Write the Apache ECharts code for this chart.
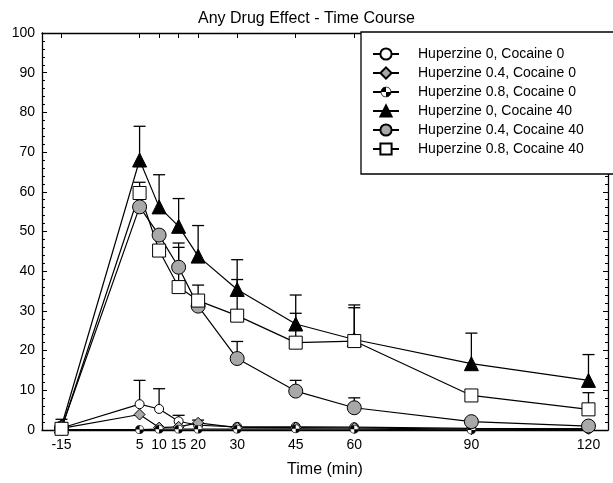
<!DOCTYPE html>
<html>
<head>
<meta charset="utf-8">
<title>Any Drug Effect - Time Course</title>
<script src="https://cdn.jsdelivr.net/npm/echarts@6/dist/echarts.min.js"></script>
<style>
  html, body { margin: 0; padding: 0; background: #fff; }
  #chart { width: 613px; height: 483px; }
</style>
</head>
<body>
<div id="chart"></div>
<script>
// time points (min)
var times = [-15, 5, 10, 15, 20, 30, 45, 60, 90, 120]

// group means
var h0c0 = [0.5, 6.5, 5.3, 2.2, 1.2, 0.8, 0.8, 0.7, 0.4, 0.3]
var h04c0 = [0.4, 3.9, 0.6, 0.8, 1.8, 0.6, 0.6, 0.5, 0.2, 0.3]
var h08c0 = [0.1, 0.1, 0.2, 0.2, 0.2, 0.2, 0.3, 0.2, 0.0, 0.2]
var h0c40 = [1.0, 68.0, 56.2, 51.3, 43.8, 35.4, 26.7, 22.8, 16.7, 12.5]
var h04c40 = [0.5, 56.2, 49.1, 41.0, 31.2, 18.0, 9.8, 5.6, 2.1, 1.0]
var h08c40 = [0.3, 59.7, 45.2, 36.0, 32.6, 28.8, 22.0, 22.4, 8.7, 5.2]

// upper end of the error bars (null = not visible)
var h0c0Err = [null, 12.5, 10.4, 3.7, null, null, null, null, null, null]
var h04c0Err = [null, null, null, null, 2.5, null, null, null, null, null]
var h0c40Err = [2.7, 76.5, 64.3, 58.3, 51.5, 42.9, 34.0, 31.5, 24.4, 19.0]
var h04c40Err = [null, null, null, 47.1, null, 22.3, 12.5, 8.1, null, null]
var h08c40Err = [null, 62.4, null, 46.0, 36.5, 37.9, 29.4, 30.8, null, 9.4]

var names = [
  'Huperzine 0, Cocaine 0',
  'Huperzine 0.4, Cocaine 0',
  'Huperzine 0.8, Cocaine 0',
  'Huperzine 0, Cocaine 40',
  'Huperzine 0.4, Cocaine 40',
  'Huperzine 0.8, Cocaine 40'
]

var font = 'Liberation Sans, Arial, Helvetica, sans-serif'

// circle with two black quadrants
var halfSvg = "<svg xmlns='http://www.w3.org/2000/svg' width='40' height='40' viewBox='0 0 40 40'>" +
  "<circle cx='20' cy='20' r='18' fill='white' stroke='black' stroke-width='3'/>" +
  "<path d='M20 20 L20 2 A18 18 0 0 0 2 20 Z M20 20 L20 38 A18 18 0 0 0 38 20 Z' fill='black'/></svg>"
var halfSymbol = 'image://data:image/svg+xml;charset=utf-8,' + encodeURIComponent(halfSvg)

function pairs(vals) {
  return times.map(function(t, i) { return [t, vals[i]] })
}

function errPairs(vals, errs) {
  var out = []
  times.forEach(function(t, i) {
    if (errs[i] != null) out.push([t, vals[i], errs[i]])
  })
  return out
}

function lineSeries(name, vals, symbol, size, fill) {
  return {
    name: name,
    type: 'line',
    data: pairs(vals),
    symbol: symbol,
    symbolSize: size,
    showAllSymbol: true,
    z: 3,
    lineStyle: { color: '#000', width: 1.2 },
    itemStyle: { color: fill, borderColor: '#000', borderWidth: 1, opacity: 1 },
    emphasis: { disabled: true },
    animation: false
  }
}

var errData = [].concat(
  errPairs(h0c0, h0c0Err),
  errPairs(h04c0, h04c0Err),
  errPairs(h0c40, h0c40Err),
  errPairs(h04c40, h04c40Err),
  errPairs(h08c40, h08c40Err)
)

var chart = echarts.init(document.getElementById('chart'))

var tickCommon = {
  axisLine: { show: true, onZero: false, lineStyle: { color: '#000', width: 1.3 } },
  splitLine: { show: false }
}

chart.setOption({
  backgroundColor: '#fff',
  animation: false,
  title: {
    text: 'Any Drug Effect - Time Course',
    left: 'center',
    top: 6,
    textStyle: { fontFamily: font, fontSize: 16, fontWeight: 'normal', color: '#000' }
  },
  grid: { left: 42, right: 5, top: 33, bottom: 51 },
  legend: {
    orient: 'vertical',
    left: 361,
    top: 32,
    data: names,
    itemWidth: 26,
    itemHeight: 14,
    itemGap: 5,
    padding: [15, 78, 18, 11],
    backgroundColor: '#fff',
    borderColor: '#000',
    borderWidth: 1.3,
    borderRadius: 0,
    selectedMode: false,
    textStyle: { fontFamily: font, fontSize: 14, color: '#000', padding: [0, 0, 0, 14] }
  },
  xAxis: [
    Object.assign({
      type: 'value',
      min: -20,
      max: 125,
      position: 'bottom',
      name: 'Time (min)',
      nameLocation: 'middle',
      nameGap: 32,
      nameTextStyle: { fontFamily: font, fontSize: 16, color: '#000' },
      axisTick: { show: true, inside: true, length: 5, customValues: times, lineStyle: { color: '#000' } },
      axisLabel: { customValues: times, margin: 8, fontFamily: font, fontSize: 14, color: '#000' }
    }, tickCommon),
    Object.assign({
      type: 'value',
      min: -20,
      max: 125,
      position: 'top',
      axisTick: { show: true, inside: true, length: 5, customValues: times, lineStyle: { color: '#000' } },
      axisLabel: { show: false }
    }, tickCommon)
  ],
  yAxis: [
    Object.assign({
      type: 'value',
      min: 0,
      max: 100,
      interval: 10,
      position: 'left',
      axisTick: { show: true, inside: true, length: 5, lineStyle: { color: '#000' } },
      minorTick: { show: true, splitNumber: 5, length: 3, lineStyle: { color: '#000' } },
      axisLabel: { margin: 7, fontFamily: font, fontSize: 14, color: '#000' }
    }, tickCommon),
    Object.assign({
      type: 'value',
      min: 0,
      max: 100,
      interval: 10,
      position: 'right',
      axisTick: { show: true, inside: true, length: 5, lineStyle: { color: '#000' } },
      minorTick: { show: true, splitNumber: 5, length: 3, lineStyle: { color: '#000' } },
      axisLabel: { show: false }
    }, tickCommon)
  ],
  series: [
    {
      type: 'custom',
      z: 1,
      silent: true,
      data: errData,
      encode: { x: 0, y: [1, 2] },
      renderItem: function(params, api) {
        var base = api.coord([api.value(0), api.value(1)])
        var top = api.coord([api.value(0), api.value(2)])
        var cap = 6
        return {
          type: 'group',
          children: [
            { type: 'line', shape: { x1: base[0], y1: base[1], x2: top[0], y2: top[1] }, style: { stroke: '#000', lineWidth: 1.3 } },
            { type: 'line', shape: { x1: top[0] - cap, y1: top[1], x2: top[0] + cap, y2: top[1] }, style: { stroke: '#000', lineWidth: 1.3 } }
          ]
        }
      }
    },
    lineSeries(names[0], h0c0, 'circle', 9, '#fff'),
    lineSeries(names[1], h04c0, 'diamond', 11, '#a8a8a8'),
    lineSeries(names[2], h08c0, halfSymbol, 9, '#000'),
    lineSeries(names[3], h0c40, 'triangle', 14, '#000'),
    lineSeries(names[4], h04c40, 'circle', 14, '#a8a8a8'),
    lineSeries(names[5], h08c40, 'rect', 13, '#fff')
  ]
})
</script>
</body>
</html>
